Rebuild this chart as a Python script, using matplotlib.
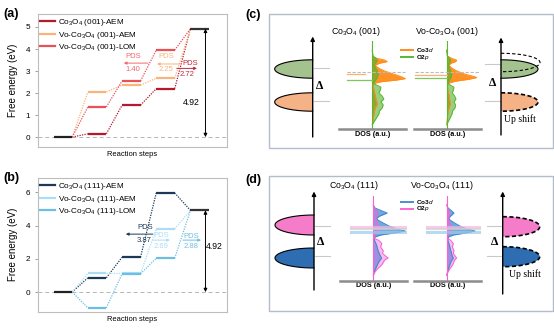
import numpy as np
import matplotlib
matplotlib.use('Agg')
import matplotlib.pyplot as plt
from matplotlib import font_manager as fm
from matplotlib.patches import Polygon, Rectangle
from matplotlib.lines import Line2D


def pick_font(candidates, default):
    for fam in candidates:
        try:
            fm.findfont(fm.FontProperties(family=fam), fallback_to_default=False)
            return fam, True
        except Exception:
            pass
    return default, False


SANS, NARROW = pick_font(['Liberation Sans Narrow', 'Arial Narrow', 'Nimbus Sans Narrow'],
                         'Liberation Sans')
K = 1.0 if NARROW else 0.84   # size factor when only the regular width is available

plt.rcParams.update({
    'font.family': SANS,
    'mathtext.fontset': 'custom',
    'mathtext.rm': SANS,
    'mathtext.it': SANS + ':italic',
    'mathtext.bf': SANS + ':bold',
})

# ---------------- free-energy profiles ----------------
steps = [0, 1, 2, 3, 4]
a_names = [r'Co$_3$O$_4$ (001)-AEM', r'Vo-Co$_3$O$_4$ (001)-AEM', r'Vo-Co$_3$O$_4$ (001)-LOM']
a_co3o4_aem = [0.00, 0.15, 1.45, 2.20, 4.92]
a_vo_aem = [0.00, 2.05, 2.36, 2.67, 4.92]
a_vo_lom = [0.00, 1.37, 2.55, 3.95, 4.92]
a_pds = ['2.72', '2.25', '1.40']
a_colors = ['#b5192b', '#f9b47c', '#ea5058']

b_names = [r'Co$_3$O$_4$ (111)-AEM', r'Vo-Co$_3$O$_4$ (111)-AEM', r'Vo-Co$_3$O$_4$ (111)-LOM']
b_co3o4_aem = [0.00, 0.86, 2.10, 5.97, 4.92]
b_vo_aem = [0.00, 1.13, 1.12, 3.81, 4.92]
b_vo_lom = [0.00, -0.95, 1.10, 2.04, 4.92]
b_pds = ['3.87', '2.69', '2.88']
b_colors = ['#1c3a57', '#a9def6', '#6cbfe3']

eq_potential = 4.92

# ---------------- projected DOS ----------------
# (001): Co3d / O2p, pristine and O-vacancy
c1_E_d = [3.5, 2.7, 2.45, 2.15, 1.95, 1.75, 1.5, 1.2, 0.95, 0.7, 0.4, 0.15, -0.15, -0.35,
          -0.55, -0.75, -0.95, -1.2, -1.9, -2.6, -3.2, -3.8, -4.3, -4.9, -5.7, -6.5]
c1_co3d = [0, 0.01, 0.09, 0.38, 0.45, 0.24, 0.09, 0.15, 0.24, 0.36, 0.55, 0.73, 0.91, 1.0,
           0.73, 0.30, 0.09, 0.02, 0.05, 0.09, 0.12, 0.15, 0.09, 0.06, 0.03, 0]
c_E_p = [3.5, 2.7, 2.45, 2.15, 1.9, 1.5, 1.1, 0.7, 0.25, -0.15, -0.55, -0.95, -1.2, -1.5,
         -1.9, -2.3, -2.7, -3.1, -3.5, -3.9, -4.3, -4.7, -5.1, -5.7, -6.2, -6.6]
c1_o2p = [0, 0.02, 0.10, 0.15, 0.12, 0.06, 0.10, 0.15, 0.18, 0.16, 0.10, 0.03, 0.12, 0.26,
          0.24, 0.20, 0.30, 0.35, 0.26, 0.33, 0.30, 0.22, 0.20, 0.12, 0.05, 0]
c2_E_d = [3.5, 2.7, 2.45, 2.15, 1.95, 1.75, 1.5, 1.2, 0.95, 0.7, 0.4, 0.15, -0.05, -0.2,
          -0.45, -0.7, -0.95, -1.2, -1.9, -2.6, -3.2, -3.8, -4.3, -4.9, -5.7, -6.5]
c2_co3d = [0, 0.02, 0.12, 0.30, 0.27, 0.14, 0.07, 0.12, 0.20, 0.30, 0.46, 0.64, 0.82, 0.91,
           0.66, 0.26, 0.07, 0.02, 0.04, 0.07, 0.09, 0.11, 0.07, 0.04, 0.02, 0]
c2_o2p = [0, 0.02, 0.08, 0.12, 0.10, 0.05, 0.08, 0.12, 0.15, 0.14, 0.08, 0.03, 0.10, 0.22,
          0.20, 0.17, 0.24, 0.28, 0.22, 0.27, 0.25, 0.18, 0.16, 0.10, 0.04, 0]
c1_centers = [0.58, 0.23, -0.54]   # reference, Co3d, O2p
c2_centers = [0.58, 0.14, -0.31]

# (111)
d_E_d = [3.53, 3.11, 2.82, 2.40, 1.98, 1.69, 1.41, 0.99, 0.56, 0.14, -0.14, -0.43, -0.71,
         -0.99, -1.41, -2.12, -2.83, -3.53, -3.96, -4.38, -4.95, -5.65, -6.36]
d1_co3d = [0, 0.05, 0.20, 0.42, 0.20, 0.10, 0.14, 0.30, 0.48, 0.72, 0.97, 0.62, 0.22,
           0.05, 0.03, 0.10, 0.14, 0.20, 0.25, 0.18, 0.12, 0.05, 0]
d2_co3d = [0, 0.04, 0.12, 0.22, 0.12, 0.06, 0.10, 0.24, 0.40, 0.62, 0.86, 0.56, 0.20,
           0.05, 0.03, 0.08, 0.12, 0.16, 0.20, 0.14, 0.09, 0.04, 0]
d_E_p = [3.5, 3.1, 2.4, 1.7, 1.0, 0.6, 0.15, -0.15, -0.7, -1.2, -1.45, -1.9, -2.4, -2.9,
         -3.3, -3.7, -3.95, -4.25, -4.6, -5.0, -5.5, -6.0, -6.4]
d1_o2p = [0, 0.04, 0.14, 0.08, 0.12, 0.16, 0.18, 0.16, 0.06, 0.02, 0.16, 0.26, 0.22, 0.30,
          0.28, 0.38, 0.45, 0.34, 0.30, 0.24, 0.12, 0.04, 0]
d2_o2p = [0, 0.03, 0.10, 0.06, 0.09, 0.12, 0.14, 0.12, 0.05, 0.02, 0.12, 0.20, 0.17, 0.22,
          0.20, 0.26, 0.30, 0.24, 0.21, 0.17, 0.09, 0.03, 0]
d_centers = [0.49, 0.14, -0.24]     # O2p, reference, Co3d

W, H, DPI = 554, 329, 100
fig = plt.figure(figsize=(W / DPI, H / DPI), dpi=DPI)
fig.patch.set_facecolor('white')


def px_axes(x0, y0, x1, y1, **kw):
    return fig.add_axes([x0 / W, 1 - y1 / H, (x1 - x0) / W, (y1 - y0) / H], **kw)


# overlay in pixel units for panel frames, labels and schematics
ov = px_axes(0, 0, W, H)
ov.set_xlim(0, W)
ov.set_ylim(H, 0)
ov.axis('off')

FS = 7.0 * K
HW = 0.27


def profile(ax, levels, color):
    for i in range(len(levels) - 1):
        ax.plot([steps[i] + HW, steps[i + 1] - HW], [levels[i], levels[i + 1]],
                color=color, lw=0.9, ls=(0, (1, 1)))
    for i in range(1, len(levels) - 1):
        ax.plot([steps[i] - HW, steps[i] + HW], [levels[i]] * 2, color=color, lw=1.6,
                solid_capstyle='butt')


def pds(ax, color, tx, ty, ax0, ax1, ay, value, vx, vy):
    ax.text(tx, ty, 'PDS', color=color, ha='center', va='center', fontsize=6.6 * K)
    ax.annotate('', xy=(ax1, ay), xytext=(ax0, ay),
                arrowprops=dict(arrowstyle='-|>', color=color, lw=0.7,
                                mutation_scale=4, shrinkA=0, shrinkB=0))
    ax.text(vx, vy, value, color=color, ha='center', va='center', fontsize=6.6 * K)


def energy_panel(rect, ylim, yticks, series, colors, names):
    ax = px_axes(*rect)
    ax.set_xlim(-0.73, 4.8)
    ax.set_ylim(*ylim)
    for s in ax.spines.values():
        s.set_color('#bdbdbd')
        s.set_linewidth(0.8)
    ax.set_xticks([])
    ax.set_yticks(yticks)
    ax.tick_params(axis='y', length=2.5, width=0.6, color='#909090', labelsize=FS, pad=3.2)
    ax.set_ylabel('Free energy (eV)', fontsize=7.0, labelpad=5.5)
    ax.set_xlabel('Reaction steps', fontsize=5.4, labelpad=3)
    ax.axhline(0, color='#b5b5b5', lw=0.7, ls=(0, (4, 3)), zorder=0)
    for lv, c in zip(series, colors):
        profile(ax, lv, c)
    first = series[0]
    ax.plot([steps[0] - HW, steps[0] + HW], [first[0]] * 2, color='#222222', lw=1.6,
            solid_capstyle='butt')
    ax.plot([steps[-1] - HW, steps[-1] + HW], [first[-1]] * 2, color='#333333', lw=1.6,
            solid_capstyle='butt')
    handles = [Line2D([], [], color=c, lw=1.6) for c in colors]
    ax.legend(handles, names, loc='upper left', bbox_to_anchor=(0.01, 0.975), frameon=False,
              fontsize=FS, handlelength=1.9, handletextpad=0.3, labelspacing=0.16,
              borderaxespad=0, borderpad=0)
    ax.annotate('', xy=(4.17, eq_potential), xytext=(4.17, 0),
                arrowprops=dict(arrowstyle='<|-|>', color='black', lw=0.7,
                                mutation_scale=5, shrinkA=0, shrinkB=0))
    return ax


axa = energy_panel((38, 14, 227, 147), (-0.45, 5.59), [0, 1, 2, 3, 4, 5],
                   [a_co3o4_aem, a_vo_aem, a_vo_lom], a_colors, a_names)
pds(axa, '#ee6b6e', 2.05, 3.64, 2.49, 1.78, 3.36, a_pds[2], 2.05, 3.09)
pds(axa, '#f9b47c', 3.01, 3.64, 3.42, 2.75, 3.32, a_pds[1], 3.01, 3.05)
pds(axa, '#c0283a', 3.71, 3.35, 3.33, 3.92, 3.12, a_pds[0], 3.63, 2.85)
axa.text(3.74, 1.55, f'{eq_potential:.2f}', fontsize=7.4 * K, ha='center', va='center')

axb = energy_panel((38, 178, 227, 311.5), (-1.17, 6.87), [0, 2, 4, 6],
                   [b_co3o4_aem, b_vo_aem, b_vo_lom], b_colors, b_names)
pds(axb, '#1c3a57', 2.40, 3.86, 2.63, 1.84, 3.49, b_pds[0], 2.37, 3.13)
pds(axb, '#a9def6', 2.88, 3.40, 2.63, 3.13, 3.13, b_pds[1], 2.88, 2.77)
pds(axb, '#6cbfe3', 3.74, 3.37, 3.51, 4.04, 3.13, b_pds[2], 3.74, 2.77)
axb.text(4.44, 2.77, f'{eq_potential:.2f}', fontsize=7.4 * K, ha='center', va='center')

# panel letters
for x, y, s in [(3, 14, '(a)'), (3, 178, '(b)'), (245, 15, '(c)'), (245, 180, '(d)')]:
    ov.text(x, y, s, fontsize=9, fontweight='bold', family='Liberation Sans',
            ha='left', va='center')

# panel frames
for y0, h in [(14, 134), (176, 135)]:
    ov.add_patch(Rectangle((269, y0), 284, h, fill=False, ec='#b3bccb', lw=1.0))


def half_ellipse(xc, yc, rx, ry, side, face, ls='-', lw=0.8, fill=True):
    t = np.linspace(-np.pi / 2, np.pi / 2, 80)
    xs = xc + side * rx * np.cos(t)
    ys = yc + ry * np.sin(t)
    if fill:
        ov.add_patch(Polygon(np.column_stack([xs, ys]), closed=True, fc=face, ec='none'))
    ov.plot(xs, ys, color='black', lw=lw, ls=ls)


def energy_axis(x, ytop, ybot):
    ov.annotate('', xy=(x, ytop), xytext=(x, ybot),
                arrowprops=dict(arrowstyle='-|>', color='black', lw=1.0,
                                mutation_scale=6, shrinkA=0, shrinkB=0))


def level_ticks(x, ys, side):
    for y in ys:
        ov.plot([x, x + side * 15], [y, y], color='#c9c9c9', lw=0.8)


serif = 'Liberation Serif'
green, orange = '#a3c28d', '#f5b286'
pink, blue = '#f57cc8', '#2f6db2'

# (c) schematics
half_ellipse(312.7, 69, 38, 9.2, -1, green)
half_ellipse(312.7, 102, 38, 9.2, -1, orange)
energy_axis(312.7, 36.5, 137)
level_ticks(313.5, [67.7, 101], +1)
ov.text(320, 86, 'Δ', family=serif, fontweight='bold', fontsize=8.5, ha='center', va='center')

half_ellipse(501, 69, 37, 9.2, +1, green)
half_ellipse(501, 62.5, 39, 9.2, +1, None, ls=(0, (3, 2)), fill=False)
half_ellipse(501, 102, 37, 9.2, +1, orange, ls=(0, (2.5, 1.5)), lw=1.2)
energy_axis(501, 37.5, 135)
level_ticks(500, [64.3, 100.7], -1)
ov.text(493, 83, 'Δ', family=serif, fontweight='bold', fontsize=8.5, ha='center', va='center')
ov.text(520, 119, 'Up shift', family=serif, fontsize=7, ha='center', va='center')

# (d) schematics
half_ellipse(314, 225, 39, 10, -1, pink)
half_ellipse(314, 258, 39, 10, -1, blue)
energy_axis(314, 191.5, 290)
level_ticks(314.8, [225.7, 256], +1)
ov.text(321, 242, 'Δ', family=serif, fontweight='bold', fontsize=8.5, ha='center', va='center')

half_ellipse(502.7, 226.7, 37, 10, +1, pink, ls=(0, (2.5, 1.5)), lw=1.2)
half_ellipse(502.7, 256.7, 37, 10, +1, blue, ls=(0, (2.5, 1.5)), lw=1.2)
energy_axis(502.7, 191.5, 294)
level_ticks(501.9, [226, 256], -1)
ov.text(495, 242, 'Δ', family=serif, fontweight='bold', fontsize=8.5, ha='center', va='center')
ov.text(525, 274, 'Up shift', family=serif, fontsize=7, ha='center', va='center')

# DOS titles and legends
for x, y, s in [(356, 31, r'Co$_3$O$_4$ (001)'), (446.7, 31, r'Vo-Co$_3$O$_4$ (001)'),
                (354, 185, r'Co$_3$O$_4$ (111)'), (442, 185, r'Vo-Co$_3$O$_4$ (111)')]:
    ov.text(x, y, s, fontsize=7.5 * K, ha='center', va='center')

for (y, c, s) in [(49.5, '#ff8c1a', r'Co3$\it{d}$'), (57, '#5ab82e', r'O2$\it{p}$'),
                  (201.5, '#4a8fd0', r'Co3$\it{d}$'), (208.8, '#ff66d0', r'O2$\it{p}$')]:
    ov.plot([400.5, 413], [y, y], color=c, lw=1.4)
    ov.text(416.5, y, s, fontsize=4.6, fontweight='bold', ha='left', va='center')


def dos_panel(x0, ytop, ybot, E_d, dos_d, E_p, dos_p, cd, cp, fd, fp, ad, ap):
    ax = px_axes(x0 - 33, ytop, x0 + 34, ybot)
    ax.set_xlim(-1, 1.03)
    ax.set_ylim(-7.2, 4.8)
    ax.patch.set_alpha(0)
    for s in ['top', 'right', 'left']:
        ax.spines[s].set_visible(False)
    ax.spines['bottom'].set_color('#8c8c8c')
    ax.spines['bottom'].set_linewidth(1.8)
    ax.set_xticks([])
    ax.set_yticks([])
    ax.set_xlabel('DOS (a.u.)', fontsize=5.2, fontweight='bold', labelpad=1.0)
    ax.fill_betweenx(E_d, 0, dos_d, color=fd, alpha=ad, lw=0)
    ax.plot(dos_d, E_d, color=cd, lw=0.7)
    ax.fill_betweenx(E_p, 0, dos_p, color=fp, alpha=ap, lw=0)
    ax.plot(dos_p, E_p, color=cp, lw=0.7)
    ax.axvline(0, color=cp, lw=0.8)
    return ax


c_kw = dict(cd='#ff8c1a', cp='#5ab82e', fd='#ff8c1a', fp='#55b030', ad=0.95, ap=0.6)
for x0, E_d, dd, dp, cen in [(372.3, c1_E_d, c1_co3d, c1_o2p, c1_centers),
                             (446.7, c2_E_d, c2_co3d, c2_o2p, c2_centers)]:
    ax = dos_panel(x0, 40.5, 129.3, E_d, dd, c_E_p, dp, **c_kw)
    left = -0.78 if x0 < 400 else -0.96
    ax.plot([left, 1.0], [cen[0]] * 2, color='#bbbbbb', lw=0.8, ls=(0, (3, 1.5)))
    ax.plot([left, -0.22 if x0 < 400 else 0], [cen[1]] * 2, color='#ffb070', lw=0.9)
    ax.plot([left, 0], [cen[2]] * 2, color='#7cc85a', lw=0.9)

d_kw = dict(cd='#3f86cc', cp='#ff5fd0', fd='#4d92d6', fp='#e070e6', ad=0.8, ap=0.45)
for x0, dd, dp in [(373.3, d1_co3d, d1_o2p), (446.7, d2_co3d, d2_o2p)]:
    ax = dos_panel(x0, 196, 281, d_E_d, dd, d_E_p, dp, **d_kw)
    left = -0.68 if x0 < 400 else -0.6
    ax.plot([left, 1.02], [d_centers[0]] * 2, color='#f7b5e0', lw=2.2, alpha=0.7)
    ax.plot([left, 1.02], [d_centers[1]] * 2, color='#d0d0d0', lw=1.6, alpha=0.7)
    ax.plot([left, 1.02], [d_centers[2]] * 2, color='#9cc9ea', lw=2.2, alpha=0.7)

fig.savefig('out.png', dpi=DPI, facecolor='white')
